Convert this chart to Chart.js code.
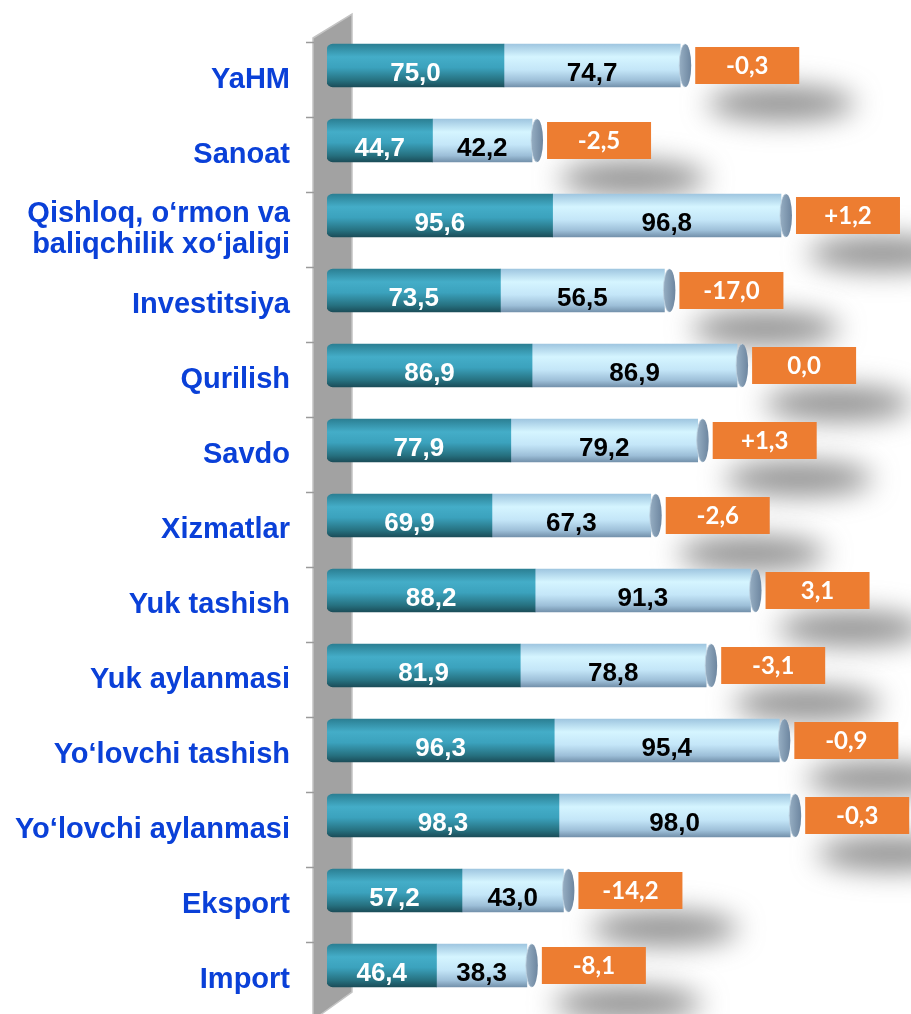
<!DOCTYPE html>
<html>
<head>
<meta charset="utf-8">
<script src="https://cdn.jsdelivr.net/npm/chart.js@4.4.1/dist/chart.umd.min.js"></script>
<style>
  html, body { margin: 0; padding: 0; background: #fff; overflow: hidden; }
  #wrap { width: 911px; height: 1020px; position: relative; }
</style>
</head>
<body>
<div id="wrap"><canvas id="chart"></canvas></div>
<script>
const categories = [
  'YaHM', 'Sanoat', ['Qishloq, o‘rmon va', 'baliqchilik xo‘jaligi'], 'Investitsiya',
  'Qurilish', 'Savdo', 'Xizmatlar', 'Yuk tashish', 'Yuk aylanmasi',
  'Yo‘lovchi tashish', 'Yo‘lovchi aylanmasi', 'Eksport', 'Import'
];
// dark segment
const firstValues = [75.0, 44.7, 95.6, 73.5, 86.9, 77.9, 69.9, 88.2, 81.9, 96.3, 98.3, 57.2, 46.4];
// light segment (bar length as drawn in the picture)
const secondValues = [74.7, 42.2, 96.8, 69.5, 86.9, 79.2, 67.3, 91.3, 78.8, 95.4, 98.0, 43.0, 38.3];
// light segment labels
const secondLabels = ['74,7', '42,2', '96,8', '56,5', '86,9', '79,2', '67,3', '91,3', '78,8', '95,4', '98,0', '43,0', '38,3'];
// orange change boxes
const changeLabels = ['-0,3', '-2,5', '+1,2', '-17,0', '0,0', '+1,3', '-2,6', '3,1', '-3,1', '-0,9', '-0,3', '-14,2', '-8,1'];

const BAR_SHIFT = -14;
const BAR_H = 43;
const fmt = v => v.toFixed(1).replace('.', ',');

function barGradient(ctx, stops, fallback) {
  const chart = ctx.chart;
  const ys = chart.scales.y;
  if (!ys || !chart.chartArea || ctx.dataIndex === undefined) return fallback;
  const top = ys.getPixelForValue(ctx.dataIndex) - BAR_H / 2;
  const g = chart.ctx.createLinearGradient(0, top, 0, top + BAR_H);
  stops.forEach(s => g.addColorStop(s[0], s[1]));
  return g;
}

const darkStops = [[0, '#2b7f93'], [0.3, '#44adc8'], [0.55, '#3ba2bd'], [0.85, '#26707f'], [1, '#1b4d59']];
const lightStops = [[0, '#9fc6e0'], [0.3, '#d5f5ff'], [0.6, '#c4e6f8'], [0.85, '#9dbfd8'], [1, '#7391ab']];

const decor = {
  id: 'decor',
  beforeDraw(chart) {
    const c = chart.ctx;
    const ys = chart.scales.y;
    // grey 3D wall
    c.save();
    c.beginPath();
    c.moveTo(313, 38);
    c.lineTo(352, 14);
    c.lineTo(352, 992);
    c.lineTo(313, 1020);
    c.closePath();
    c.fillStyle = '#a2a2a2';
    c.fill();
    c.strokeStyle = '#c4c4c4';
    c.lineWidth = 1.5;
    c.stroke();
    // tick marks at category boundaries
    c.strokeStyle = '#9a9a9a';
    c.lineWidth = 1.5;
    for (let i = 0; i <= categories.length; i++) {
      const y = Math.round(ys.getPixelForValue(i - 0.5)) + 0.5;
      c.beginPath();
      c.moveTo(306, y);
      c.lineTo(314, y);
      c.stroke();
    }
    c.restore();
  },
  beforeDatasetsDraw(chart) {
    const c = chart.ctx;
    const xs = chart.scales.x, ys = chart.scales.y;
    c.save();
    c.filter = 'blur(14px)';
    c.fillStyle = 'rgba(95,95,95,0.7)';
    firstValues.forEach((v, i) => {
      const X = xs.getPixelForValue(v + secondValues[i]);
      const boxEnd = X + 15 + 104;
      const yc = ys.getPixelForValue(i);
      c.beginPath();
      c.ellipse(boxEnd - 18, yc + 24, 74, 17, 0, 0, Math.PI * 2);
      c.fill();
    });
    c.restore();
    c.save();
    c.translate(0, BAR_SHIFT);
  },
  afterDatasetsDraw(chart) {
    const c = chart.ctx;
    c.restore();
    const xs = chart.scales.x, ys = chart.scales.y;
    const m0 = chart.getDatasetMeta(0), m1 = chart.getDatasetMeta(1);
    c.save();
    firstValues.forEach((v, i) => {
      const X = xs.getPixelForValue(v + secondValues[i]);
      const yc = ys.getPixelForValue(i) + BAR_SHIFT;
      // end cap
      const cg = c.createLinearGradient(X, 0, X + 11, 0);
      cg.addColorStop(0, '#93abc0');
      cg.addColorStop(1, '#6d86a0');
      c.beginPath();
      c.ellipse(X + 5, yc, 6, BAR_H / 2, 0, 0, Math.PI * 2);
      c.fillStyle = cg;
      c.fill();
      c.strokeStyle = 'rgba(190,210,225,0.8)';
      c.lineWidth = 1;
      c.beginPath();
      c.ellipse(X + 5, yc, 6, BAR_H / 2, 0, Math.PI / 2, Math.PI * 1.5);
      c.stroke();

      // value labels
      c.font = 'bold 26px "Liberation Sans", Arial, sans-serif';
      c.textAlign = 'center';
      c.textBaseline = 'alphabetic';
      const e0 = m0.data[i], e1 = m1.data[i];
      c.fillStyle = '#ffffff';
      c.fillText(fmt(v), (e0.x + e0.base) / 2, yc + 15);
      c.fillStyle = '#000000';
      c.fillText(secondLabels[i], (e1.x + e1.base) / 2, yc + 15);

      // orange change box
      const bx = X + 15;
      c.fillStyle = '#ED7D31';
      c.fillRect(bx, yc - 18.5, 104, 37);
      c.fillStyle = '#ffffff';
      c.font = 'bold 24px Lato, "Open Sans", sans-serif';
      c.fillText(changeLabels[i], bx + 52, yc + 8);
    });
    c.restore();
  }
};

new Chart(document.getElementById('chart'), {
  type: 'bar',
  data: {
    labels: categories,
    datasets: [
      {
        data: firstValues,
        backgroundColor: ctx => barGradient(ctx, darkStops, '#3ba2bd'),
        borderRadius: { topLeft: 6, bottomLeft: 6, topRight: 0, bottomRight: 0 },
        borderSkipped: false,
        barThickness: BAR_H
      },
      {
        data: secondValues,
        backgroundColor: ctx => barGradient(ctx, lightStops, '#c4e6f8'),
        barThickness: BAR_H
      }
    ]
  },
  options: {
    indexAxis: 'y',
    responsive: true,
    maintainAspectRatio: false,
    animation: false,
    layout: { padding: { top: 42, bottom: 3, left: 0, right: 0 } },
    plugins: { legend: { display: false }, tooltip: { enabled: false } },
    scales: {
      x: { stacked: true, display: false, min: 0, max: 247.5 },
      y: {
        stacked: true,
        grid: { display: false, drawTicks: false },
        border: { display: false },
        afterFit: s => { s.width = 327; s.paddingTop = 0; s.paddingBottom = 0; },
        ticks: {
          padding: 37,
          color: '#0a40d8',
          font: { family: '"Liberation Sans", Arial, sans-serif', size: 29, weight: 'bold', lineHeight: 1.1 }
        }
      }
    }
  },
  plugins: [decor]
});
</script>
</body>
</html>
